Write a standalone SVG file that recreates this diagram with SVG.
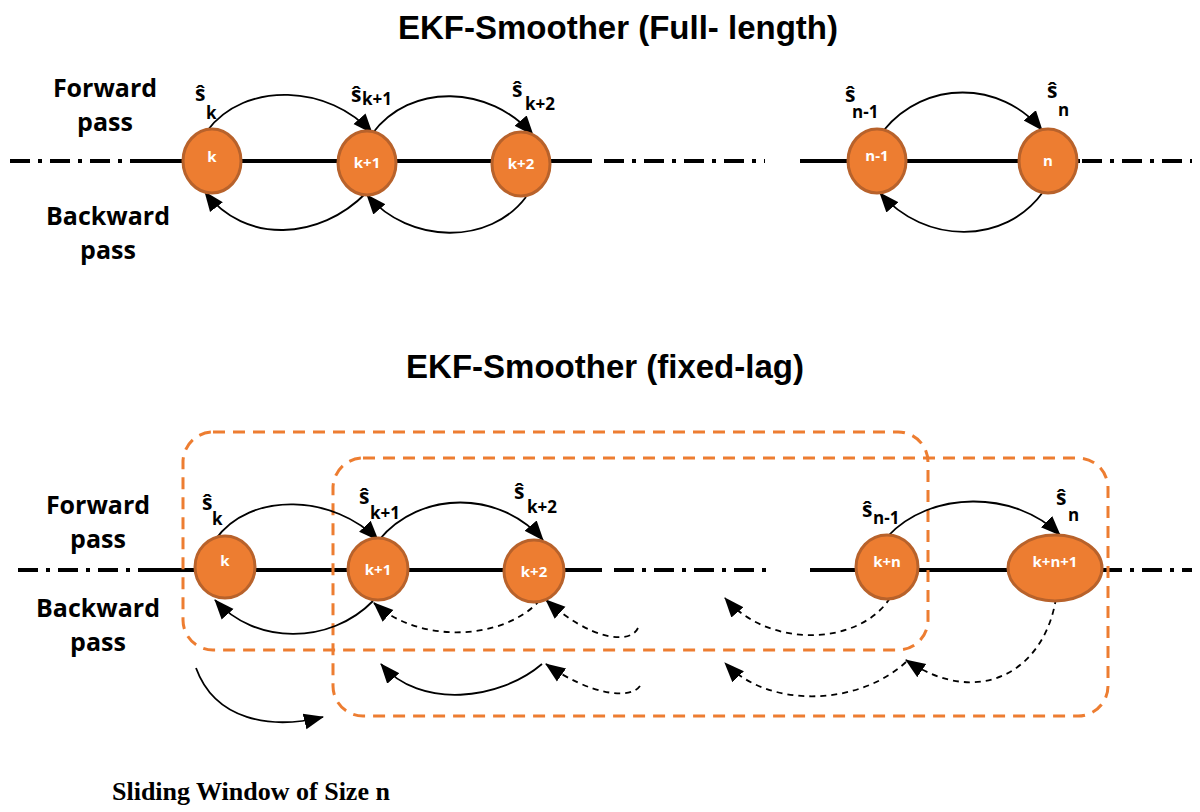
<svg xmlns="http://www.w3.org/2000/svg" width="1200" height="812" viewBox="0 0 1200 812">
<style>
.nd{fill:#ED7D31;stroke:#B8622B;stroke-width:3}
.nt{font-family:"Open Sans","Liberation Sans",sans-serif;font-size:15px;font-weight:bold;fill:#fff;text-anchor:middle}
.lb{font-family:"Open Sans","Liberation Sans",sans-serif;font-size:25px;font-weight:bold;fill:#000;text-anchor:middle}
.sh{font-family:"Open Sans","Liberation Sans",sans-serif;font-size:21px;font-weight:bold;fill:#000}
.sb{font-family:"Open Sans","Liberation Sans",sans-serif;font-size:17px;font-weight:bold;fill:#000}
.tt{font-family:"Liberation Sans",Arial,sans-serif;font-size:33px;font-weight:bold;fill:#000;text-anchor:middle}
.ax{fill:none;stroke:#000;stroke-width:1.8}
.da{fill:none;stroke:#000;stroke-width:1.8;stroke-dasharray:6 5}
.ln{stroke:#000;stroke-width:4}
.dl{stroke:#000;stroke-width:4;stroke-dasharray:20 8 4 8}
.bx{fill:none;stroke:#ED7D31;stroke-width:3;stroke-dasharray:12 8}
</style>
<defs>
<marker id="a2" viewBox="0 0 20 20" refX="19" refY="10" markerWidth="20" markerHeight="20" orient="auto" markerUnits="userSpaceOnUse">
<path d="M0,2 L20,10 L0,18 z" fill="#000"/>
</marker>
</defs>
<text class="tt" x="618" y="39">EKF-Smoother (Full- length)</text>
<text class="tt" x="605" y="378">EKF-Smoother (fixed-lag)</text>
<g id="labels">
<text class="lb" x="105" y="97">Forward</text>
<text class="lb" x="105" y="131">pass</text>
<text class="lb" x="108" y="225">Backward</text>
<text class="lb" x="108" y="259">pass</text>
<text class="lb" x="98" y="514">Forward</text>
<text class="lb" x="98" y="548">pass</text>
<text class="lb" x="98" y="617">Backward</text>
<text class="lb" x="98" y="651">pass</text>
<text x="112" y="800" font-family="Liberation Serif,serif" font-size="26" font-weight="bold">Sliding Window of Size n</text>
</g>
<g id="lines">
<line class="dl" x1="10" y1="161" x2="140" y2="161"/>
<line class="ln" x1="140" y1="161" x2="592" y2="161"/>
<line class="dl" x1="604" y1="161" x2="765" y2="161"/>
<line class="ln" x1="800" y1="161" x2="1080" y2="161"/>
<line class="dl" x1="1082" y1="161" x2="1192" y2="161"/>
<line class="dl" x1="18" y1="570" x2="150" y2="570"/>
<line class="ln" x1="150" y1="570" x2="602" y2="570"/>
<line class="dl" x1="614" y1="570" x2="770" y2="570"/>
<line class="ln" x1="810" y1="570" x2="1100" y2="570"/>
<line class="dl" x1="1102" y1="570" x2="1192" y2="570"/>
</g>
<g id="windows">
<rect class="bx" x="183" y="432" width="745" height="218" rx="30"/>
<rect class="bx" x="333" y="458" width="775" height="258" rx="30"/>
</g>
<g id="connectors">
<path class="ax" d="M207,131 C245,80 330,85 372,133" marker-end="url(#a2)"/>
<path class="ax" d="M372,134 C410,82 490,85 533,135" marker-end="url(#a2)"/>
<path class="ax" d="M884,130 C925,80 1000,80 1042,130" marker-end="url(#a2)"/>
<path class="ax" d="M366,193 C320,240 245,245 205,192" marker-end="url(#a2)"/>
<path class="ax" d="M526,197 C490,245 410,245 367,195" marker-end="url(#a2)"/>
<path class="ax" d="M1043,192 C1005,245 925,245 880,193" marker-end="url(#a2)"/>
<path class="ax" d="M215,540 C250,490 335,495 378,540" marker-end="url(#a2)"/>
<path class="ax" d="M379,540 C420,490 500,490 543,540" marker-end="url(#a2)"/>
<path class="ax" d="M887,537 C930,490 1015,490 1060,535" marker-end="url(#a2)"/>
<path class="ax" d="M373,601 C330,645 255,645 215,600" marker-end="url(#a2)"/>
<path class="da" d="M540,600 C505,640 420,645 374,603" marker-end="url(#a2)"/>
<path class="da" d="M638,628 C630,645 590,640 546,600" marker-end="url(#a2)"/>
<path class="da" d="M890,598 C860,645 770,650 725,598" marker-end="url(#a2)"/>
<path class="ax" d="M542,664 C500,700 420,710 381,664" marker-end="url(#a2)"/>
<path class="da" d="M640,686 C630,700 590,695 546,664" marker-end="url(#a2)"/>
<path class="da" d="M906,662 C860,705 770,710 725,663" marker-end="url(#a2)"/>
<path class="da" d="M1056,598 C1045,670 980,710 906,660" marker-end="url(#a2)"/>
<path class="ax" d="M196,668 C215,720 270,730 323,717" marker-end="url(#a2)"/>
</g>
<g id="n-k"><ellipse class="nd" cx="212" cy="161" rx="29" ry="32"/><text class="nt" x="212" y="162">k</text></g>
<g id="n-k1"><ellipse class="nd" cx="367" cy="163" rx="29" ry="32"/><text class="nt" x="367" y="168">k+1</text></g>
<g id="n-k2"><ellipse class="nd" cx="521" cy="164" rx="29" ry="32"/><text class="nt" x="521" y="169">k+2</text></g>
<g id="n-n1"><ellipse class="nd" cx="877" cy="161" rx="29" ry="32"/><text class="nt" x="877" y="161">n-1</text></g>
<g id="n-n"><ellipse class="nd" cx="1048" cy="161" rx="29" ry="32"/><text class="nt" x="1048" y="166">n</text></g>
<g id="b-k"><ellipse class="nd" cx="225" cy="567" rx="30" ry="31"/><text class="nt" x="225" y="566">k</text></g>
<g id="b-k1"><ellipse class="nd" cx="378" cy="569" rx="30" ry="31"/><text class="nt" x="378" y="575">k+1</text></g>
<g id="b-k2"><ellipse class="nd" cx="534" cy="571" rx="30" ry="31"/><text class="nt" x="534" y="577">k+2</text></g>
<g id="b-kn"><ellipse class="nd" cx="887" cy="567" rx="31" ry="32"/><text class="nt" x="887" y="567">k+n</text></g>
<g id="b-kn1"><ellipse class="nd" cx="1055" cy="568" rx="47" ry="33"/><text class="nt" x="1055" y="567">k+n+1</text></g>
<g id="slabels">
<text class="sh" x="195" y="101">ŝ</text><text class="sb" x="206" y="119">k</text>
<text class="sh" x="351" y="102">ŝ</text><text class="sb" x="362" y="105">k+1</text>
<text class="sh" x="512" y="97">ŝ</text><text class="sb" x="525" y="110">k+2</text>
<text class="sh" x="845" y="102">ŝ</text><text class="sb" x="852" y="118">n-1</text>
<text class="sh" x="1047" y="98">ŝ</text><text class="sb" x="1058" y="116">n</text>
<text class="sh" x="202" y="510">ŝ</text><text class="sb" x="212" y="525">k</text>
<text class="sh" x="359" y="504">ŝ</text><text class="sb" x="370" y="519">k+1</text>
<text class="sh" x="514" y="499">ŝ</text><text class="sb" x="527" y="513">k+2</text>
<text class="sh" x="862" y="517">ŝ</text><text class="sb" x="873" y="524">n-1</text>
<text class="sh" x="1056" y="505">ŝ</text><text class="sb" x="1068" y="521">n</text>
</g>
</svg>
